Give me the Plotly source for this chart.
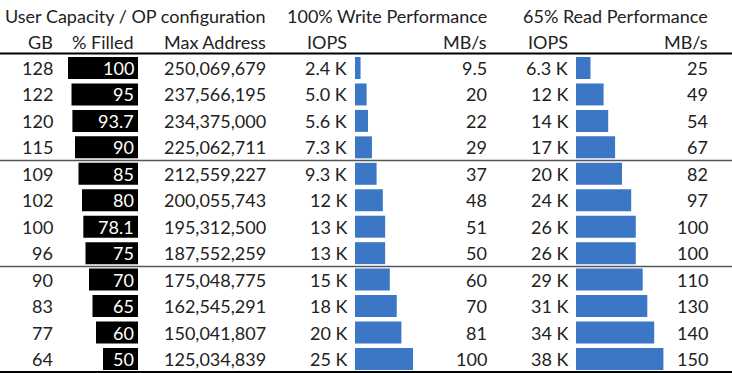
import plotly.graph_objects as go

# ---- data ----
gb = [128, 122, 120, 115, 109, 102, 100, 96, 90, 83, 77, 64]
pct_filled = [100, 95, 93.7, 90, 85, 80, 78.1, 75, 70, 65, 60, 50]
max_address = [250069679, 237566195, 234375000, 225062711, 212559227, 200055743,
               195312500, 187552259, 175048775, 162545291, 150041807, 125034839]
write_iops_k = [2.4, 5.0, 5.6, 7.3, 9.3, 12, 13, 13, 15, 18, 20, 25]
write_mbs = [9.5, 20, 22, 29, 37, 48, 51, 50, 60, 70, 81, 100]
read_iops_k = [6.3, 12, 14, 17, 20, 24, 26, 26, 29, 31, 34, 38]
read_mbs = [25, 49, 54, 67, 82, 97, 100, 100, 110, 130, 140, 150]
group_titles = ["User Capacity / OP configuration", "100% Write Performance", "65% Read Performance"]
col_titles = ["GB", "% Filled", "Max Address", "IOPS", "MB/s", "IOPS", "MB/s"]

W, H = 732, 373
FONT = "Lato"
FS = 18
TXT = "#222222"
BLUE = "#3b77c4"

rows = list(range(len(gb)))
row0_px, row_step = 68, 26.45
y_top = -row0_px / row_step
y_bot = (H - row0_px) / row_step

def px2y(p):
    return (p - row0_px) / row_step

def fmt_iops(v):
    return (f"{v:.1f} K" if v < 10 else f"{v:.0f} K")

def fmt_num(v):
    return f"{v:g}"

fig = go.Figure()

bar_w = 0.83
fig.add_trace(go.Bar(y=rows, x=pct_filled, orientation="h", width=bar_w,
                     marker=dict(color="#000000", line=dict(width=0)),
                     xaxis="x", yaxis="y", hoverinfo="skip"))
fig.add_trace(go.Bar(y=rows, x=write_iops_k, orientation="h", width=bar_w,
                     marker=dict(color=BLUE, line=dict(width=0)),
                     xaxis="x2", yaxis="y", hoverinfo="skip"))
fig.add_trace(go.Bar(y=rows, x=read_iops_k, orientation="h", width=bar_w,
                     marker=dict(color=BLUE, line=dict(width=0)),
                     xaxis="x3", yaxis="y", hoverinfo="skip"))

ann = []
def add_text(xpx, yv, text, color=TXT):
    ann.append(dict(x=xpx / W, y=yv, xref="paper", yref="y", text=text,
                    xanchor="right", yanchor="middle", showarrow=False,
                    font=dict(family=FONT, size=FS, color=color)))

col_right = [55, 136, 268, 349, 489, 570, 710]
for i in rows:
    add_text(col_right[0], i, str(gb[i]))
    add_text(col_right[1], i, fmt_num(pct_filled[i]), "#ffffff")
    add_text(col_right[2], i, f"{max_address[i]:,}")
    add_text(col_right[3], i, fmt_iops(write_iops_k[i]))
    add_text(col_right[4], i, fmt_num(write_mbs[i]))
    add_text(col_right[5], i, fmt_iops(read_iops_k[i]))
    add_text(col_right[6], i, fmt_num(read_mbs[i]))

for xr, t in zip(col_right, col_titles):
    add_text(xr, px2y(42), t)
for xr, t in zip([268, 489, 710], group_titles):
    add_text(xr, px2y(16), t)

shapes = [
    dict(type="line", xref="paper", yref="y", x0=0, x1=1, y0=px2y(53.5), y1=px2y(53.5),
         line=dict(color="#000000", width=2.2)),
    dict(type="line", xref="paper", yref="y", x0=0, x1=1, y0=3.5, y1=3.5,
         line=dict(color="#555555", width=1.5)),
    dict(type="line", xref="paper", yref="y", x0=0, x1=1, y0=7.5, y1=7.5,
         line=dict(color="#555555", width=1.5)),
    dict(type="line", xref="paper", yref="y", x0=0, x1=1, y0=11.5, y1=11.5,
         line=dict(color="#000000", width=2.5)),
]

fig.update_layout(
    width=W, height=H,
    margin=dict(l=0, r=0, t=0, b=0),
    paper_bgcolor="white", plot_bgcolor="rgba(0,0,0,0)",
    showlegend=False, barmode="overlay",
    yaxis=dict(range=[y_bot, y_top], visible=False, domain=[0, 1], fixedrange=True),
    xaxis=dict(domain=[0, 138 / W], range=[138 / 0.7, 0], visible=False, anchor="y"),
    xaxis2=dict(domain=[355 / W, 1], range=[0, (W - 355) / 2.32], visible=False, anchor="y"),
    xaxis3=dict(domain=[576 / W, 1], range=[0, (W - 576) / 2.3], visible=False, anchor="y"),
    annotations=ann, shapes=shapes,
)

fig.write_html("out.html",
               config=dict(displayModeBar=False, staticPlot=True),
               post_script="document.body.style.margin='0';document.body.style.overflow='hidden';")
